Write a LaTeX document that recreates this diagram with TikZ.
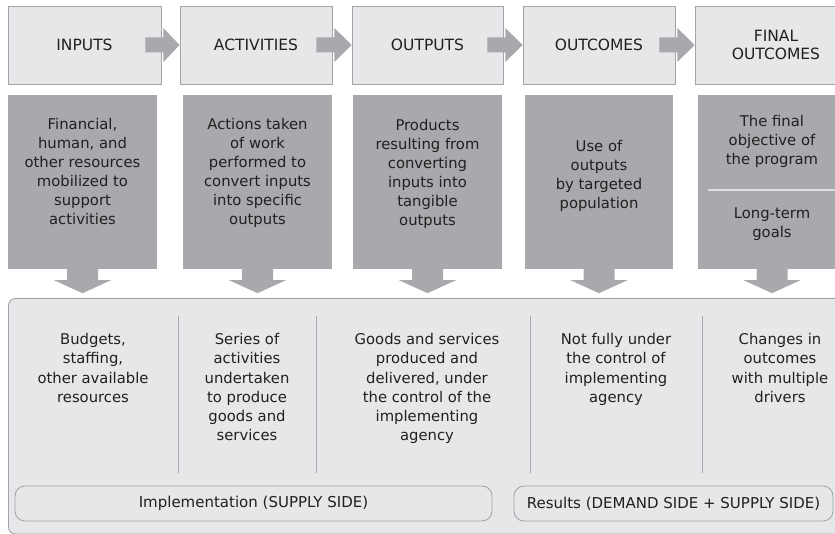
\documentclass[tikz,border=0pt]{standalone}
\usepackage{fontspec}
\setmainfont{DejaVu Sans}
\usetikzlibrary{calc}
\definecolor{lightg}{HTML}{E6E7E8}
\definecolor{darkg}{HTML}{A7A9AC}
\definecolor{edgeg}{HTML}{A3A5A8}
\definecolor{txt}{HTML}{231F20}
\definecolor{sepw}{HTML}{DEDFE0}
\begin{document}
\begin{tikzpicture}[x=1pt,y=-1pt,
  topbox/.style={draw=edgeg, line width=0.9pt, fill=lightg, minimum height=78pt,
    inner sep=0pt, text=txt, font=\fontsize{15.5}{18.5}\selectfont, align=center},
  darkbox/.style={fill=darkg, draw=none, minimum height=174pt, inner sep=0pt},
  darktext/.style={text=txt, font=\fontsize{14.8}{19}\selectfont, align=center, inner sep=0pt},
  lowtext/.style={text=txt, font=\fontsize{14.8}{19.3}\selectfont, align=center, inner sep=0pt, anchor=north},
  pill/.style={draw=edgeg, line width=0.9pt, fill=lightg, rounded corners=10pt, minimum height=35pt,
    inner sep=0pt, text=txt, font=\fontsize{15}{18}\selectfont},
  blockarrow/.style={fill=darkg, draw=none},
  sepline/.style={draw=darkg, line width=0.9pt}
]
\useasboundingbox (0,0) rectangle (835,534);
\clip (0,0) rectangle (835,534);

% top boxes
\node[topbox, minimum width=153pt] (tin)  at (84.5,45) {INPUTS};
\node[topbox, minimum width=152pt] (tact) at (256,45)  {ACTIVITIES};
\node[topbox, minimum width=151pt] (tout) at (427.5,45) {OUTPUTS};
\node[topbox, minimum width=152pt] (toc)  at (599,45)  {OUTCOMES};
\node[topbox, minimum width=162pt] (tfin) at (776,45)  {FINAL\\OUTCOMES};

% horizontal block arrows
\foreach \a/\b in {tin/tact, tact/tout, tout/toc, toc/tfin}{
  \fill[blockarrow] ($(\a.east)+(-16,-7.5)$) -- ($(\a.east)+(2,-7.5)$) -- ($(\a.east)+(2,-17)$)
    -- (\b.west) -- ($(\a.east)+(2,17)$) -- ($(\a.east)+(2,7.5)$) -- ($(\a.east)+(-16,7.5)$) -- cycle;
}

% dark boxes
\node[darkbox, minimum width=149pt] (din)  at (82.5,182) {};
\node[darkbox, minimum width=149pt] (dact) at (257.5,182) {};
\node[darkbox, minimum width=149pt] (dout) at (427.5,182) {};
\node[darkbox, minimum width=148pt] (doc)  at (599,182) {};
\node[darkbox, minimum width=148pt] (dfin) at (772,182) {};

\draw[draw=sepw, line width=1.6pt] (708,190) -- (850,190);

\node[darktext] (xin)  at (82.5,171) {Financial,\\human, and\\other resources\\mobilized to\\support\\activities};
\node[darktext] (xact) at (257.5,172.5) {Actions taken\\of work\\performed to\\convert inputs\\into specific\\outputs};
\node[darktext] (xout) at (427.5,174) {Products\\resulting from\\converting\\inputs into\\tangible\\outputs};
\node[darktext] (xoc)  at (599,176) {Use of\\outputs\\by targeted\\population};
\node[darktext] (xf1)  at (772,141.5) {The final\\objective of\\the program};
\node[darktext] (xf2)  at (772,224) {Long-term\\goals};

% bottom panel
\node[draw=edgeg, line width=0.9pt, fill=lightg, rounded corners=7pt, anchor=north west,
  minimum width=862pt, minimum height=235.5pt, inner sep=0pt] (panel) at (8,298) {};

% down arrows
\foreach \d in {din, dact, dout, doc, dfin}{
  \coordinate (\d tip) at ($(\d.south)+(0,24)$);
  \fill[blockarrow] ($(\d.south)+(-15.5,-1)$) -- ($(\d.south)+(15.5,-1)$) -- ($(\d.south)+(15.5,11)$)
    -- ($(\d.south)+(28.5,11)$) -- (\d tip) -- ($(\d.south)+(-28.5,11)$) -- ($(\d.south)+(-15.5,11)$) -- cycle;
}

% separators
\foreach \x in {178,316,530,702}{
  \draw[sepline] (\x,316) -- (\x,473);
}

\node[lowtext] (b1) at (93,333) {Budgets,\\staffing,\\other available\\resources};
\node[lowtext] (b2) at (247,333) {Series of\\activities\\undertaken\\to produce\\goods and\\services};
\node[lowtext] (b3) at (427,333) {Goods and services\\produced and\\delivered, under\\the control of the\\implementing\\agency};
\node[lowtext] (b4) at (616,333) {Not fully under\\the control of\\implementing\\agency};
\node[lowtext] (b5) at (780,333) {Changes in\\outcomes\\with multiple\\drivers};

\node[pill, minimum width=477pt] (impl) at (253.5,503.5) {Implementation (SUPPLY SIDE)};
\node[pill, minimum width=319pt] (res)  at (673.5,503.5) {Results (DEMAND SIDE + SUPPLY SIDE)};
\end{tikzpicture}
\end{document}
